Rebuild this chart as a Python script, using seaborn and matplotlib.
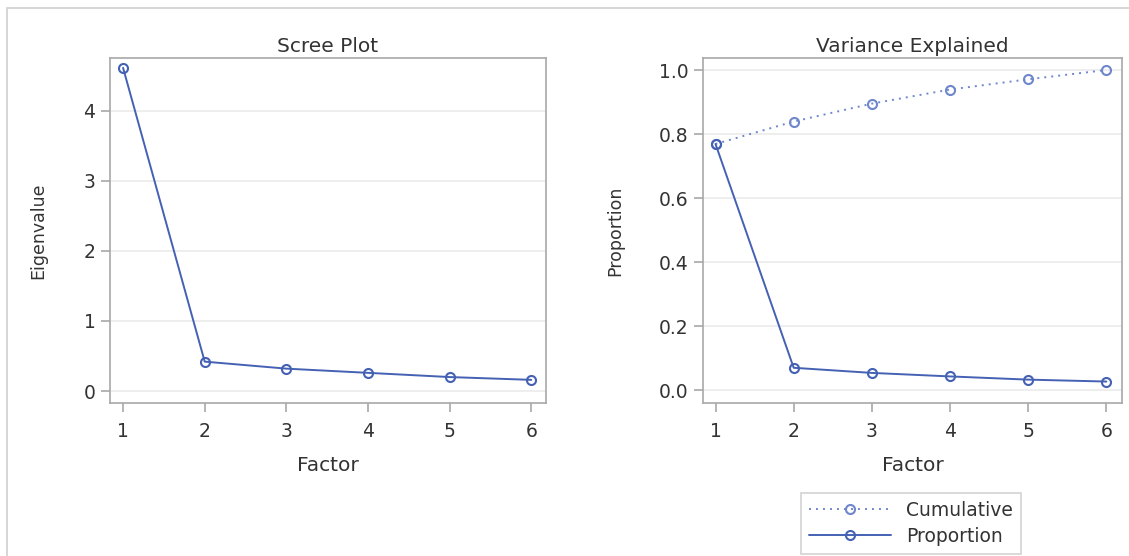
import numpy as np
import pandas as pd
import matplotlib
matplotlib.use("Agg")
import matplotlib.pyplot as plt
import seaborn as sns

# values
factors = [1, 2, 3, 4, 5, 6]
eigenvalues = [4.61, 0.42, 0.32, 0.26, 0.20, 0.16]
proportion = [0.769, 0.070, 0.054, 0.043, 0.033, 0.027]
cumulative = [0.769, 0.839, 0.895, 0.939, 0.971, 1.000]

sns.set_style("white")
plt.rcParams['font.family'] = ['DejaVu Sans']

line_col = "#4461b3"
cum_col = "#6f87cc"
frame_col = "#a8a8a8"
text_col = "#333333"

scree = pd.DataFrame({'Factor': factors, 'Eigenvalue': eigenvalues})
var = pd.DataFrame({'Factor': factors, 'Proportion': proportion,
                    'Cumulative': cumulative})

fig = plt.figure(figsize=(11.29, 5.56), dpi=100)
W, H = 1129, 556
ax1 = fig.add_axes([110 / W, 1 - 403 / H, 436 / W, 345 / H])
ax2 = fig.add_axes([703 / W, 1 - 403 / H, 419 / W, 345 / H])

# outer light border
fig.patches.append(plt.Rectangle((7 / W, -0.01), 1.0, 1 - 8 / H + 0.01,
                                 transform=fig.transFigure, fill=False,
                                 edgecolor="#d0d0d0", linewidth=1.2))

mk = dict(marker='o', markersize=6.5, markerfacecolor='none',
          markeredgewidth=1.5, linewidth=1.4)

sns.lineplot(data=scree, x='Factor', y='Eigenvalue', ax=ax1, color=line_col,
             markeredgecolor=line_col, **mk)

sns.lineplot(data=var, x='Factor', y='Cumulative', ax=ax2, color=cum_col,
             linestyle=(0, (1.0, 2.6)), markeredgecolor=cum_col,
             label='Cumulative', **mk)
sns.lineplot(data=var, x='Factor', y='Proportion', ax=ax2, color=line_col,
             markeredgecolor=line_col, label='Proportion', **mk)

ax1.set_xlim(0.84, 6.18)
ax1.set_ylim(-0.17, 4.75)
ax1.set_yticks([0, 1, 2, 3, 4])
ax2.set_xlim(0.84, 6.2)
ax2.set_ylim(-0.04, 1.0375)
ax2.set_yticks([0.0, 0.2, 0.4, 0.6, 0.8, 1.0])
ax2.set_yticklabels(['0.0', '0.2', '0.4', '0.6', '0.8', '1.0'])

for ax, title, ylab, ylx in [(ax1, 'Scree Plot', 'Eigenvalue', -0.165),
                             (ax2, 'Variance Explained', 'Proportion', -0.21)]:
    ax.set_xticks(factors)
    ax.grid(axis='y', color="#ebebeb", linewidth=1.2)
    ax.set_axisbelow(True)
    for s in ax.spines.values():
        s.set_color(frame_col)
        s.set_linewidth(1.2)
    ax.tick_params(axis='both', direction='out', length=6.5, width=1.2,
                   color=frame_col, labelsize=13.5, labelcolor=text_col,
                   bottom=True, left=True, pad=4)
    ax.tick_params(axis='x', pad=7)
    ax.set_title(title, fontsize=14.5, color=text_col, pad=4)
    ax.set_xlabel('Factor', fontsize=14.5, color=text_col)
    ax.xaxis.label.set_va('center')
    ax.xaxis.set_label_coords(0.5, -0.18)
    ax.set_ylabel(ylab, fontsize=12.5, color=text_col)
    ax.yaxis.label.set_va('center')
    ax.yaxis.set_label_coords(ylx, 0.5)

leg = ax2.legend(loc='upper center', bbox_to_anchor=(911 / W, 1 - 493 / H),
                 bbox_transform=fig.transFigure, frameon=True, fancybox=False,
                 fontsize=13.5, handlelength=4.4, handletextpad=0.8,
                 borderpad=0.4, labelspacing=0.4, borderaxespad=0)
leg.get_frame().set_edgecolor("#c8c8c8")
leg.get_frame().set_linewidth(1.2)
for t in leg.get_texts():
    t.set_color(text_col)

fig.savefig("out.png", dpi=100)
